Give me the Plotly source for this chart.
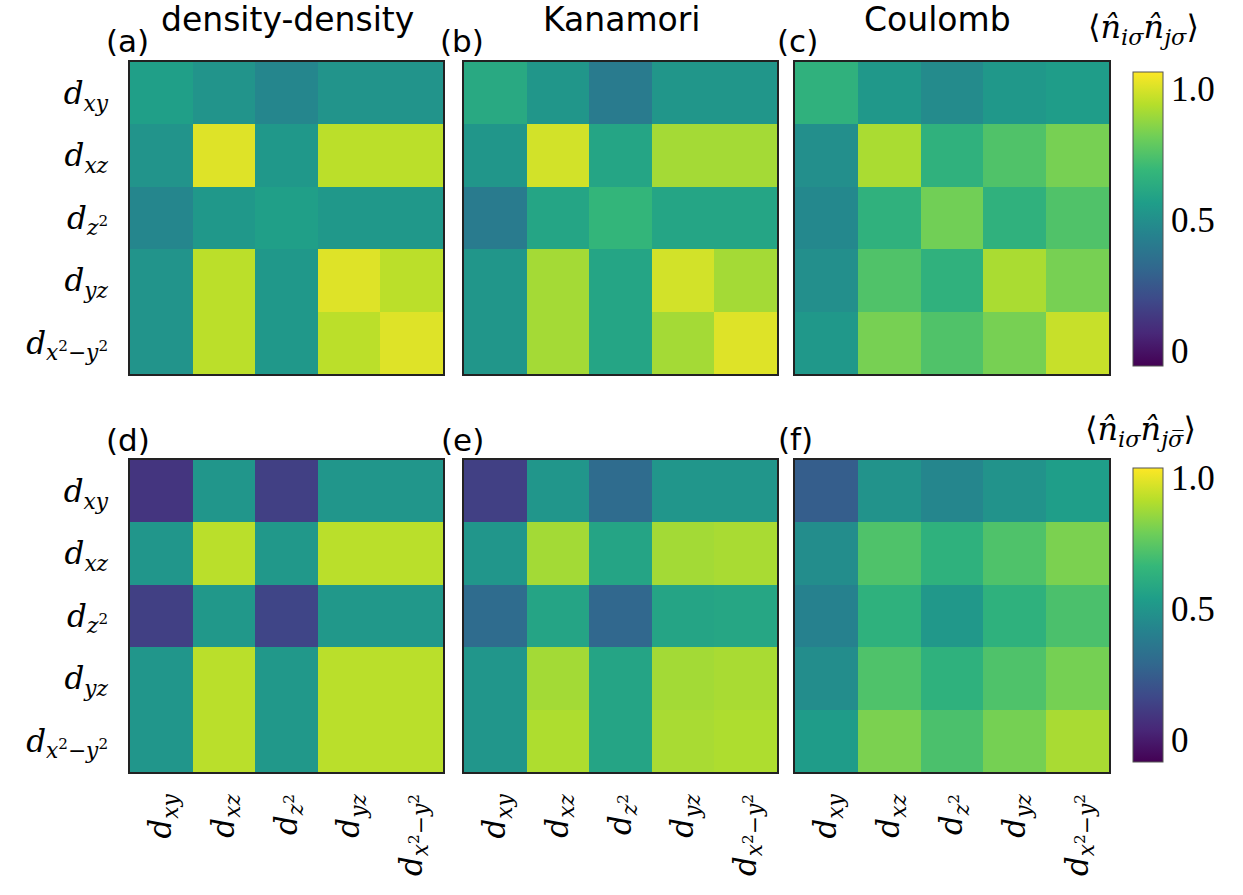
import plotly.graph_objects as go

# ---------------- data ----------------
orbital_ticktext = [
    "<i>d</i><sub><i>xy</i></sub>",
    "<i>d</i><sub><i>xz</i></sub>",
    "<i>d</i><sub><i>z</i><sup>2</sup></sub>",
    "<i>d</i><sub><i>yz</i></sub>",
    "<i>d</i><sub><i>x</i><sup>2</sup>−<i>y</i><sup>2</sup></sub>",
]
orbital_index = [0, 1, 2, 3, 4]

panel_letters = ["(a)", "(b)", "(c)", "(d)", "(e)", "(f)"]
column_titles = ["density-density", "Kanamori", "Coulomb"]

# <n_i sigma n_j sigma>  (same spin)
same_density = [
    [0.57, 0.52, 0.46, 0.52, 0.52],
    [0.52, 1.01, 0.54, 0.95, 0.95],
    [0.46, 0.54, 0.57, 0.54, 0.54],
    [0.52, 0.95, 0.54, 1.01, 0.95],
    [0.52, 0.95, 0.54, 0.95, 1.01],
]
same_kanamori = [
    [0.62, 0.53, 0.41, 0.53, 0.53],
    [0.53, 0.99, 0.60, 0.91, 0.91],
    [0.41, 0.60, 0.68, 0.60, 0.60],
    [0.53, 0.91, 0.60, 0.99, 0.91],
    [0.53, 0.91, 0.60, 0.91, 1.01],
]
same_coulomb = [
    [0.66, 0.54, 0.48, 0.54, 0.56],
    [0.50, 0.92, 0.66, 0.75, 0.83],
    [0.47, 0.66, 0.82, 0.66, 0.75],
    [0.50, 0.75, 0.66, 0.92, 0.83],
    [0.54, 0.83, 0.75, 0.83, 0.97],
]
# <n_i sigma n_j sigma-bar>  (opposite spin)
opp_density = [
    [0.09, 0.50, 0.13, 0.50, 0.50],
    [0.50, 0.92, 0.51, 0.92, 0.92],
    [0.13, 0.51, 0.15, 0.51, 0.51],
    [0.50, 0.92, 0.51, 0.92, 0.92],
    [0.50, 0.92, 0.51, 0.92, 0.92],
]
opp_kanamori = [
    [0.13, 0.50, 0.31, 0.50, 0.50],
    [0.50, 0.88, 0.57, 0.88, 0.89],
    [0.31, 0.57, 0.29, 0.57, 0.58],
    [0.50, 0.88, 0.57, 0.88, 0.89],
    [0.50, 0.90, 0.57, 0.89, 0.90],
]
opp_coulomb = [
    [0.25, 0.49, 0.43, 0.49, 0.54],
    [0.46, 0.72, 0.63, 0.72, 0.81],
    [0.41, 0.63, 0.51, 0.63, 0.71],
    [0.46, 0.72, 0.63, 0.72, 0.80],
    [0.53, 0.81, 0.71, 0.80, 0.89],
]

colorbar_tickvals = [0, 0.5, 1.0]
colorbar_ticktext = ["0", "0.5", "1.0"]

# ---------------- layout helpers ----------------
W, H = 1243, 895
col_px = [(130, 443), (464, 777), (795, 1109)]
row_px = [(62, 374), (460, 772)]


def fx(px):
    return px / W


def fy(py):
    return 1 - py / H


matrices = [same_density, same_kanamori, same_coulomb,
            opp_density, opp_kanamori, opp_coulomb]

fig = go.Figure()
layout_axes = {}
serif = "Liberation Serif"
mathfont = "DejaVu Serif"
sans = "DejaVu Sans"

for k, z in enumerate(matrices):
    r, c = divmod(k, 3)
    n = k + 1
    xa = "x" if n == 1 else f"x{n}"
    ya = "y" if n == 1 else f"y{n}"
    fig.add_trace(go.Heatmap(
        z=z, x=orbital_index, y=orbital_index,
        coloraxis="coloraxis" if r == 0 else "coloraxis2",
        xaxis=xa, yaxis=ya,
    ))
    xkey = "xaxis" if n == 1 else f"xaxis{n}"
    ykey = "yaxis" if n == 1 else f"yaxis{n}"
    x0, x1 = col_px[c]
    y0, y1 = row_px[r]
    layout_axes[xkey] = dict(
        domain=[fx(x0), fx(x1)], anchor=ya, range=[-0.5, 4.5],
        showgrid=False, zeroline=False, showline=True, mirror=True,
        linecolor="#222", linewidth=1.5, ticks="",
        tickvals=orbital_index, ticktext=orbital_ticktext,
        showticklabels=(r == 1), tickangle=-90,
        tickfont=dict(family=mathfont, size=31, color="black"),
        ticklabelstandoff=8,
    )
    layout_axes[ykey] = dict(
        domain=[fy(y1), fy(y0)], anchor=xa, range=[4.5, -0.5],
        showgrid=False, zeroline=False, showline=True, mirror=True,
        linecolor="#222", linewidth=1.5, ticks="",
        tickvals=orbital_index, ticktext=orbital_ticktext,
        showticklabels=(c == 0),
        tickfont=dict(family=mathfont, size=31, color="black"),
        ticklabelstandoff=14,
    )

fig.update_layout(**layout_axes)


def cbar(ycenter_px):
    return dict(
        x=fx(1123), xanchor="left", xref="paper",
        y=fy(ycenter_px), yanchor="middle", yref="paper",
        thickness=30, thicknessmode="pixels",
        len=314, lenmode="pixels",
        outlinewidth=1, outlinecolor="#555",
        tickvals=colorbar_tickvals, ticktext=colorbar_ticktext,
        ticks="", tickfont=dict(family=serif, size=35, color="black"),
    )


fig.update_layout(
    width=W, height=H,
    margin=dict(l=0, r=0, t=0, b=0),
    paper_bgcolor="white", plot_bgcolor="white",
    coloraxis=dict(colorscale="Viridis", cmin=-0.057, cmax=1.064,
                   colorbar=cbar(219)),
    coloraxis2=dict(colorscale="Viridis", cmin=-0.085, cmax=1.036,
                    colorbar=cbar(615)),
    showlegend=False,
)

annotations = []
title_x = [287, 622, 938]
for c, t in enumerate(column_titles):
    annotations.append(dict(
        text=t, x=fx(title_x[c]), y=fy(20), xref="paper", yref="paper",
        showarrow=False, xanchor="center", yanchor="middle",
        font=dict(family=sans, size=33, color="black")))

letter_pos = [(128, 41), (462, 41), (797, 41), (128, 440), (462, 440), (795, 439)]
for lab, (px, py) in zip(panel_letters, letter_pos):
    annotations.append(dict(
        text=lab, x=fx(px), y=fy(py), xref="paper", yref="paper",
        showarrow=False, xanchor="center", yanchor="middle",
        font=dict(family=sans, size=31, color="black")))

annotations.append(dict(
    text="⟨<i>n̂</i><sub><i>iσ</i></sub><i>n̂</i><sub><i>jσ</i></sub>⟩",
    x=fx(1143), y=fy(29), xref="paper", yref="paper", showarrow=False,
    xanchor="center", yanchor="middle",
    font=dict(family=mathfont, size=32, color="black")))
annotations.append(dict(
    text="⟨<i>n̂</i><sub><i>iσ</i></sub><i>n̂</i><sub><i>jσ̅</i></sub>⟩",
    x=fx(1140), y=fy(431), xref="paper", yref="paper", showarrow=False,
    xanchor="center", yanchor="middle",
    font=dict(family=mathfont, size=32, color="black")))

fig.update_layout(annotations=annotations)

fig.write_html("out.html")
